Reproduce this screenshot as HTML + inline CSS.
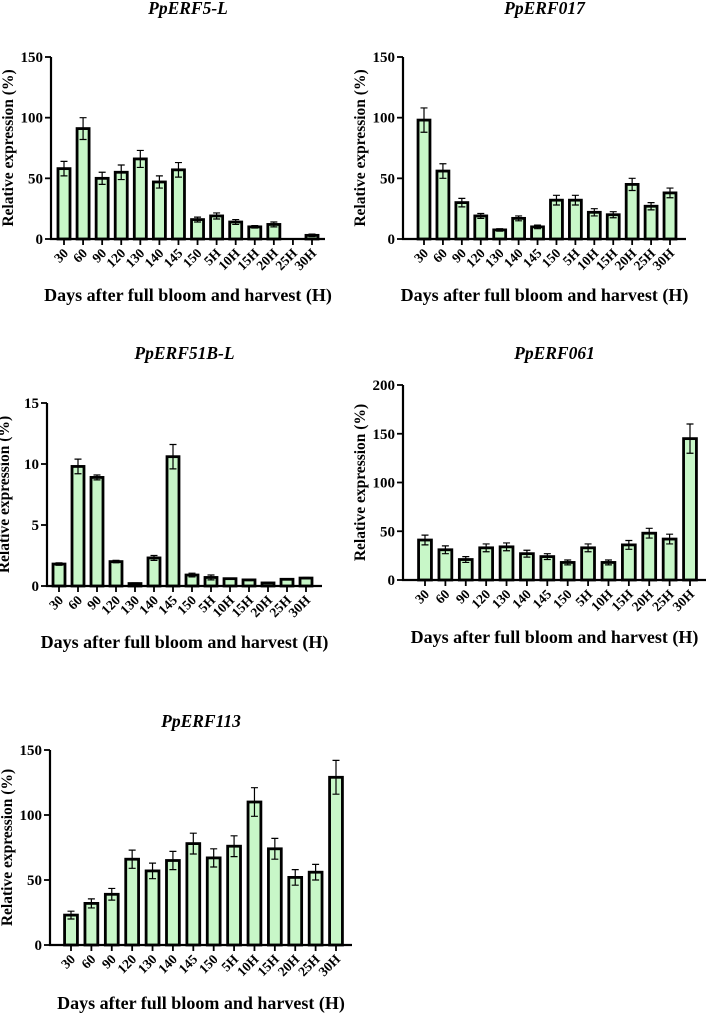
<!DOCTYPE html>
<html><head><meta charset="utf-8"><style>
html,body{margin:0;padding:0;background:#fff;}
svg{display:block;}
text{font-family:"Liberation Serif",serif;font-weight:bold;fill:#000;}
</style></head><body>
<svg id="fig" width="708" height="1016" viewBox="0 0 708 1016" xmlns="http://www.w3.org/2000/svg"></svg>
<script>
const categories = ["30","60","90","120","130","140","145","150","5H","10H","15H","20H","25H","30H"];
const erf5Values = [58,91,50,55,66,47,57,16,19,14,10,12,0,3];
const erf5Errors = [6,9,5,6,7,5,6,2,2.5,2,1,2,0,1];
const erf017Values = [98,56,30,19,7.5,17,10,32,32,22,20,45,27,38];
const erf017Errors = [10,6,3.5,2,1,2,1.5,4,4,3,2.5,5,3,4];
const erf51Values = [1.8,9.8,8.9,2.0,0.2,2.3,10.6,0.9,0.7,0.6,0.5,0.25,0.55,0.65];
const erf51Errors = [0.1,0.6,0.2,0.1,0.05,0.2,1.0,0.15,0.2,0.05,0.05,0.05,0.05,0.05];
const erf061Values = [41,31,21,33,34,27,24,18,33,18,36,48,42,145];
const erf061Errors = [5,4,3,4,4,3.5,3,2.5,4,2.5,4.5,5,5,15];
const erf113Values = [23,32,39,66,57,65,78,67,76,110,74,52,56,129];
const erf113Errors = [3,3.5,4.5,7,6,7,8,7,8,11,8,6,6,13];
const ticks150 = [0,50,100,150];
const ticks15 = [0,5,10,15];
const ticks200 = [0,50,100,150,200];

const NS="http://www.w3.org/2000/svg";
const svg=document.getElementById('fig');
function mk(tag,attrs,parent){const e=document.createElementNS(NS,tag);for(const k in attrs)e.setAttribute(k,attrs[k]);(parent||svg).appendChild(e);return e;}

const panels=[
 {id:'ppERF5-L',title:'PpERF5-L',vals:erf5Values,errs:erf5Errors,ticks:ticks150,max:150,ax:51,y0:239,yTop:57,x0:64,x1:312,axEnd:325,titleY:14,xtY:301},
 {id:'ppERF017',title:'PpERF017',vals:erf017Values,errs:erf017Errors,ticks:ticks150,max:150,ax:403,y0:239,yTop:57,x0:424,x1:670,axEnd:686,titleY:14,xtY:301},
 {id:'ppERF51B-L',title:'PpERF51B-L',vals:erf51Values,errs:erf51Errors,ticks:ticks15,max:15,ax:47,y0:586,yTop:403,x0:59,x1:306,axEnd:322,titleY:359,xtY:648},
 {id:'ppERF061',title:'PpERF061',vals:erf061Values,errs:erf061Errors,ticks:ticks200,max:200,ax:403,y0:580,yTop:385,x0:425,x1:690,axEnd:706,titleY:359,xtY:643},
 {id:'ppERF113',title:'PpERF113',vals:erf113Values,errs:erf113Errors,ticks:ticks150,max:150,ax:50,y0:945,yTop:750,x0:71,x1:336,axEnd:352,titleY:727,xtY:1009}
];

panels.forEach(p=>{
 const g=mk('g',{});
 
 
 const yS=v=>p.y0-(v/p.max)*(p.y0-p.yTop);
 const step=(p.x1-p.x0)/(categories.length-1);
 const xS=i=>p.x0+i*step;
 const bw=step*0.63;
 const cx=(p.ax+p.axEnd)/2;
 const t=mk('text',{x:cx,y:p.titleY,'text-anchor':'middle','font-size':'17.5','font-style':'italic'},g);
 t.textContent=p.title;
 
 
 categories.forEach((c,i)=>{
  const v=p.vals[i],e=p.errs[i],x=xS(i);
  if(v>0){
   const r=mk('rect',{x:x-bw/2,y:yS(v),width:bw,height:p.y0-yS(v),fill:'#c8f7c8',stroke:'#000','stroke-width':'2.8'},g);
   
   
   if(e>0){
    const eb=mk('path',{d:`M${x} ${yS(v-e)}V${yS(v+e)}M${x-3.5} ${yS(v+e)}H${x+3.5}M${x-3.5} ${yS(v-e)}H${x+3.5}`,stroke:'#000','stroke-width':'1.2',fill:'none'},g);
    
    
   }
  }
  const tk=mk('line',{x1:x,x2:x,y1:p.y0,y2:p.y0+6,stroke:'#000','stroke-width':'1.8'},g);
  
  
  const lb=mk('text',{x:x+5,y:p.y0+15,'text-anchor':'end','font-size':'13.5',transform:`rotate(-45 ${x+5} ${p.y0+15})`},g);
  lb.textContent=c;
  
  
 });
 const axes=mk('path',{d:`M${p.ax} ${p.yTop}V${p.y0}H${p.axEnd}`,stroke:'#000','stroke-width':'2.2',fill:'none'},g);
 
 
 p.ticks.forEach(v=>{
  const yt=mk('line',{x1:p.ax-6,x2:p.ax,y1:yS(v),y2:yS(v),stroke:'#000','stroke-width':'1.8'},g);
  
  
  const yl=mk('text',{x:p.ax-8,y:yS(v)+5,'text-anchor':'end','font-size':'15'},g);
  yl.textContent=v;
  
  
 });
 const ym=(p.y0+p.yTop)/2;
 const ytl=mk('text',{x:0,y:0,'text-anchor':'middle','font-size':'15.5',transform:`translate(${p.ax-38} ${ym}) rotate(-90)`},g);
 ytl.textContent='Relative expression (%)';
 
 
 const xtl=mk('text',{x:cx,y:p.xtY,'text-anchor':'middle','font-size':'18'},g);
 xtl.textContent='Days after full bloom and harvest (H)';
 
 
});
</script>
</body></html>
